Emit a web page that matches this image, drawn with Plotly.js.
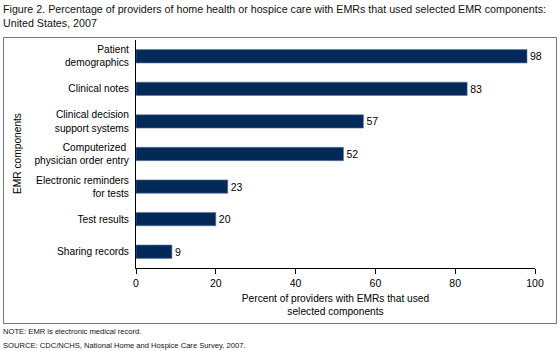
<!DOCTYPE html>
<html><head><meta charset="utf-8">
<script src="https://cdn.plot.ly/plotly-3.0.1.min.js"></script>
<style>html,body{margin:0;padding:0;background:#fff}#chart{width:560px;height:351px}</style>
</head><body><div id="chart"></div>
<script>
var categories = ["Patient<br>demographics", "Clinical notes", "Clinical decision<br>support systems", "Computerized <br>physician order entry", "Electronic reminders<br>for tests", "Test results", "Sharing records"];
var values = [98, 83, 57, 52, 23, 20, 9];
var xTicks = [0, 20, 40, 60, 80, 100];

var L = 136, R = 25, T = 40, B = 83, W = 560, H = 351;
var pw = W - L - R, ph = H - T - B;
function px(x){ return (x - L) / pw; }
function py(y){ return (H - B - y) / ph; }

var font = "Liberation Sans, Arial, sans-serif";
var trace = {
  type: "bar", orientation: "h",
  x: values, y: categories,
  marker: {color: "#022957", line: {color: "#5a7aa0", width: 0.6}},
  width: 0.41,
  text: values.map(String), textposition: "outside", cliponaxis: false,
  textfont: {family: font, size: 10.5, color: "#000"},
  hoverinfo: "none"
};
var layout = {
  width: W, height: H,
  margin: {l: L, r: R, t: T, b: B, pad: 0},
  paper_bgcolor: "#fff", plot_bgcolor: "#fff",
  showlegend: false,
  font: {family: font, size: 10, color: "#000"},
  xaxis: {
    range: [0, 100], tickvals: xTicks, ticktext: xTicks.map(String),
    showgrid: false, zeroline: false, showline: true, linecolor: "#000", linewidth: 1,
    ticks: "outside", ticklen: 5, tickcolor: "#000",
    tickfont: {family: font, size: 10.5, color: "#000"},
    title: {text: "Percent of providers with EMRs that used<br>selected components", font: {family: font, size: 10.2, color: "#000"}, standoff: 7},
    fixedrange: true
  },
  yaxis: {
    autorange: "reversed", showgrid: false, zeroline: false,
    showline: true, linecolor: "#000", linewidth: 1, ticks: "",
    tickfont: {family: font, size: 10.2, color: "#000"},
    ticklabelstandoff: 4, fixedrange: true
  },
  shapes: [{type: "rect", xref: "paper", yref: "paper",
    x0: px(3.5), x1: px(556.5), y0: py(323.5), y1: py(37.5),
    line: {color: "#777", width: 1}, fillcolor: "rgba(0,0,0,0)"}],
  annotations: [
    {xref: "paper", yref: "paper", x: px(1), y: py(1), xanchor: "left", yanchor: "top", align: "left", showarrow: false,
     text: "Figure 2. Percentage of providers of home health or hospice care with EMRs that used selected EMR components:<br>United States, 2007",
     font: {family: font, size: 10.7, color: "#111"}},
    {xref: "paper", yref: "paper", x: px(17), y: 0.5, xanchor: "center", yanchor: "middle", textangle: -90, showarrow: false,
     text: "EMR components", font: {family: font, size: 10.2, color: "#000"}},
    {xref: "paper", yref: "paper", x: px(1), y: py(331), xanchor: "left", yanchor: "middle", showarrow: false,
     text: "NOTE: EMR is electronic medical record.", font: {family: font, size: 7.6, color: "#111"}},
    {xref: "paper", yref: "paper", x: px(1), y: py(345), xanchor: "left", yanchor: "middle", showarrow: false,
     text: "SOURCE: CDC/NCHS, National Home and Hospice Care Survey, 2007.", font: {family: font, size: 7.6, color: "#111"}}
  ]
};
Plotly.newPlot("chart", [trace], layout, {staticPlot: true, displayModeBar: false});
</script></body></html>
